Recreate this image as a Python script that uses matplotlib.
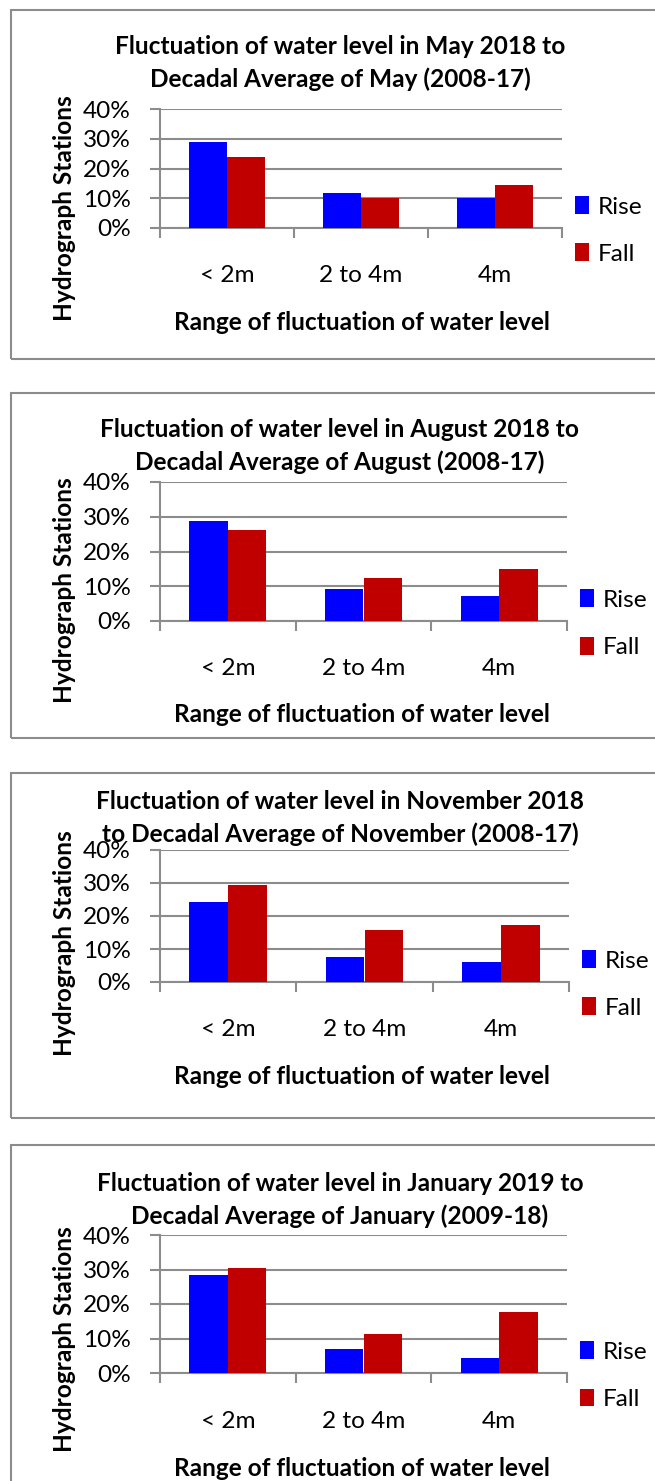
import matplotlib
matplotlib.use('Agg')
import matplotlib.pyplot as plt
from matplotlib.patches import Rectangle
import numpy as np

plt.rcParams['font.family'] = ['Lato', 'DejaVu Sans']

categories = ['< 2m', '2 to 4m', '4m']
series_names = ['Rise', 'Fall']

titles = [
    'Fluctuation of water level in May 2018 to\nDecadal Average of May (2008-17)',
    'Fluctuation of water level in August 2018 to\nDecadal Average of August (2008-17)',
    'Fluctuation of water level in November 2018\nto Decadal Average of November (2008-17)',
    'Fluctuation of water level in January 2019 to\nDecadal Average of January (2009-18)',
]

rise_may = [28.9, 11.6, 10.1]
fall_may = [23.7, 10.1, 14.4]
rise_aug = [28.8, 9.3, 7.1]
fall_aug = [26.3, 12.3, 14.9]
rise_nov = [24.2, 7.5, 6.0]
fall_nov = [29.5, 15.8, 17.4]
rise_jan = [28.4, 7.1, 4.4]
fall_jan = [30.4, 11.3, 17.7]

y_ticks = [0, 10, 20, 30, 40]
y_tick_labels = ['0%', '10%', '20%', '30%', '40%']

RISE_COLOR = '#0000FF'
FALL_COLOR = '#C00000'
GRID_COLOR = '#8c8c8c'

W, H = 655, 1481
FS = 17.6

# pixel layout of each panel: box top/bottom, axes x0/x1/top/bottom, title y, xlabel y, ylabel y
panels = [
    dict(box=(10, 359), ax=(160, 562, 109, 228), title_y=63, xlab_y=323, ylab_y=208),
    dict(box=(393, 738), ax=(160, 567, 482, 621), title_y=446, xlab_y=715, ylab_y=590),
    dict(box=(773, 1118), ax=(160, 569, 850, 982), title_y=818, xlab_y=1077, ylab_y=943),
    dict(box=(1145, 1500), ax=(160, 567, 1235, 1373), title_y=1200, xlab_y=1468, ylab_y=1339),
]
data = [(rise_may, fall_may), (rise_aug, fall_aug), (rise_nov, fall_nov), (rise_jan, fall_jan)]


def fx(px):
    return px / W


def fy(py):
    return 1 - py / H


fig = plt.figure(figsize=(W / 100, H / 100), dpi=100)

for p, (rise, fall), title in zip(panels, data, titles):
    top, bottom = p['box']
    fig.patches.append(Rectangle((fx(11), fy(bottom)), fx(700) - fx(11), fy(top) - fy(bottom),
                                 transform=fig.transFigure, fill=False,
                                 edgecolor=GRID_COLOR, linewidth=1.5))

    x0, x1, ay0, ay1 = p['ax']
    ax = fig.add_axes([fx(x0), fy(ay1), fx(x1) - fx(x0), fy(ay0) - fy(ay1)])
    x = np.arange(len(categories))
    w = 0.285
    ax.bar(x - w / 2, rise, w, color=RISE_COLOR, label=series_names[0], zorder=3)
    ax.bar(x + w / 2, fall, w, color=FALL_COLOR, label=series_names[1], zorder=3)

    ax.set_xlim(-0.5, len(categories) - 0.5)
    ax.set_ylim(0, 40)
    ax.set_yticks(y_ticks)
    ax.set_yticklabels(y_tick_labels, fontsize=FS)
    ax.yaxis.grid(True, color=GRID_COLOR, linewidth=1.5, zorder=0)
    ax.set_axisbelow(True)

    ax.set_xticks(x)
    ax.set_xticklabels(categories, fontsize=FS)
    ax.set_xticks(np.arange(-0.5, len(categories)), minor=True)
    ax.tick_params(axis='x', which='major', length=0, pad=27)
    ax.tick_params(axis='x', which='minor', length=7, width=1.5, color=GRID_COLOR)
    ax.tick_params(axis='y', length=7, width=1.5, color=GRID_COLOR, pad=14)

    for s in ['top', 'right']:
        ax.spines[s].set_visible(False)
    for s in ['left', 'bottom']:
        ax.spines[s].set_color(GRID_COLOR)
        ax.spines[s].set_linewidth(1.5)

    ax.legend(loc='center left', bbox_to_anchor=(1.0 + 3 / (x1 - x0), -0.02),
              frameon=False, fontsize=FS, handlelength=0.6, handleheight=0.75,
              handletextpad=0.35, labelspacing=1.05, borderaxespad=0)

    fig.text(fx(340), fy(p['title_y']), title, ha='center', va='center',
             fontsize=FS, fontweight='bold', linespacing=1.45)
    fig.text(fx(362), fy(p['xlab_y']), 'Range of fluctuation of water level',
             ha='center', va='center', fontsize=FS, fontweight='bold')
    fig.text(fx(65), fy(p['ylab_y']), 'Hydrograph Stations', ha='center', va='center',
             rotation=90, fontsize=FS, fontweight='bold')

fig.savefig('out.png', dpi=100)
